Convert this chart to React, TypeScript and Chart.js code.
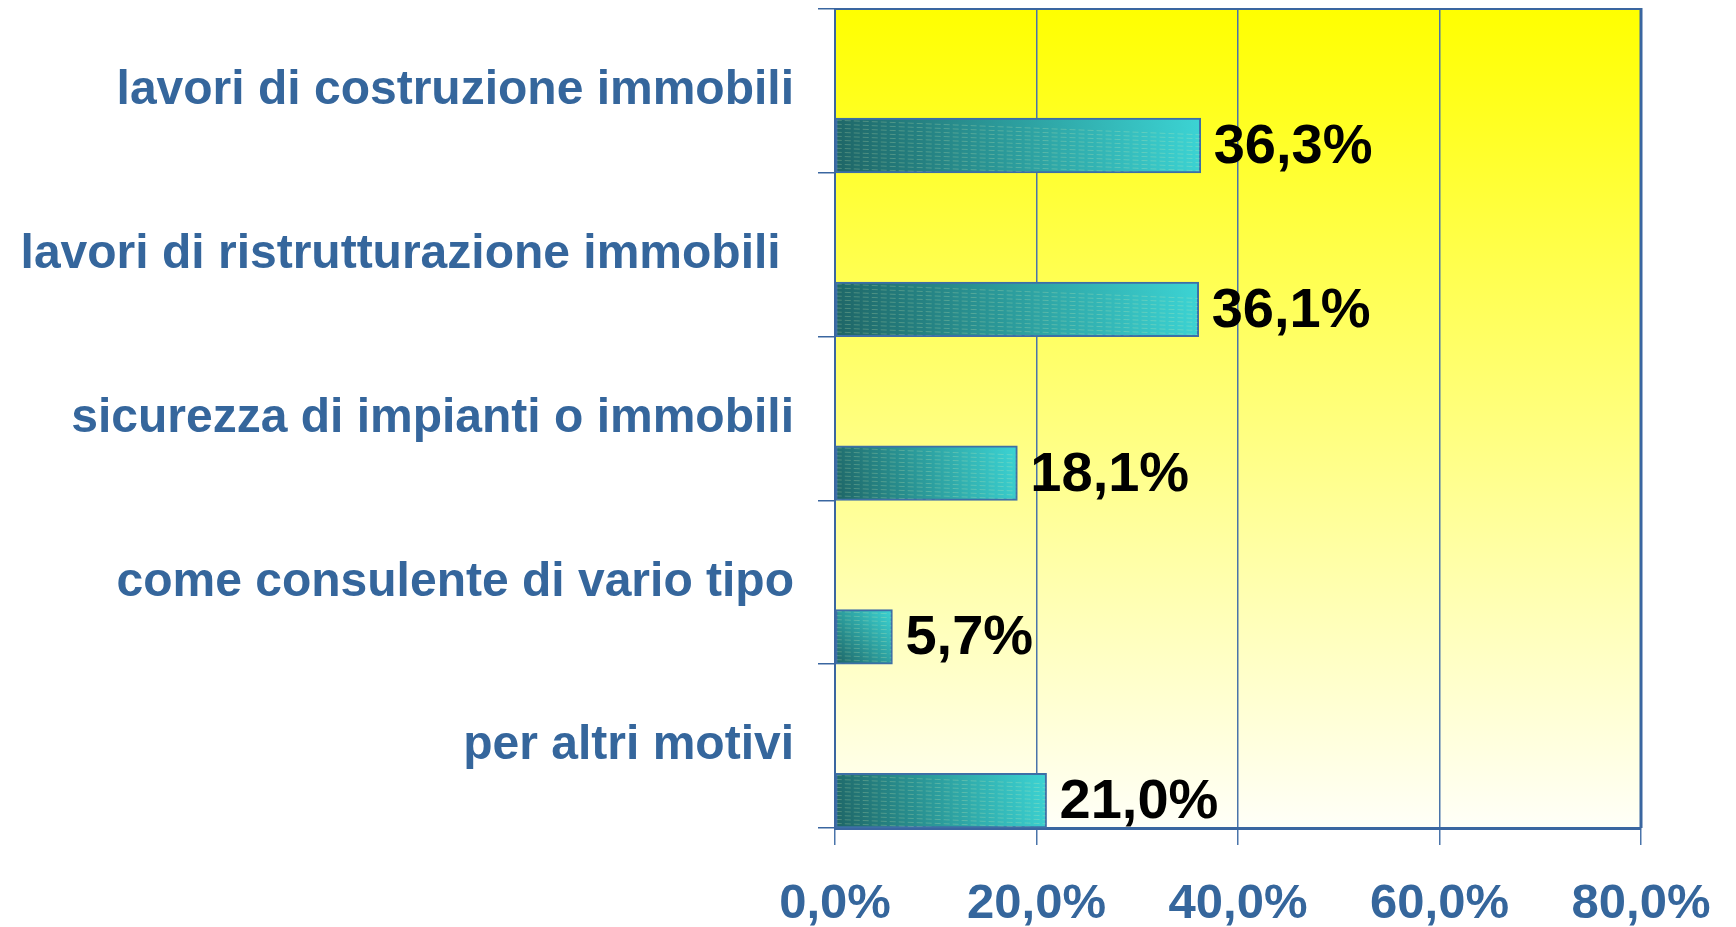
import React, { useEffect, useRef } from 'react';
import { Chart, registerables } from 'chart.js';

Chart.register(...registerables);

const categories = [
  'lavori di costruzione immobili',
  'lavori di ristrutturazione immobili ',
  'sicurezza di impianti o immobili',
  'come consulente di vario tipo',
  'per altri motivi',
];
const values = [36.3, 36.1, 18.1, 5.7, 21.0];
const xTicks = [0, 20, 40, 60, 80];
const spacerA = categories.map(() => null);
const spacerB = categories.map(() => null);

const FONT = '"Liberation Sans", Arial, sans-serif';
const BLUE_TEXT = '#35669c';
const GRID = '#4a74aa';
const AXIS = '#3a66a0';

const fmt = (v: number) => v.toFixed(1).replace('.', ',') + '%';

const bgPlugin = {
  id: 'plotBg',
  beforeDraw(chart: any) {
    const { ctx, chartArea: a } = chart;
    const g = ctx.createLinearGradient(0, a.top, 0, a.bottom);
    g.addColorStop(0, '#ffff00');
    g.addColorStop(1, '#fffff8');
    ctx.save();
    ctx.fillStyle = g;
    ctx.fillRect(a.left, a.top, a.right - a.left, a.bottom - a.top);
    ctx.restore();
  },
  afterDraw(chart: any) {
    const { ctx, chartArea: a } = chart;
    ctx.save();
    ctx.strokeStyle = AXIS;
    ctx.lineWidth = 2;
    ctx.beginPath();
    ctx.moveTo(a.left, a.top);
    ctx.lineTo(a.right, a.top);
    ctx.stroke();
    ctx.lineWidth = 3;
    ctx.beginPath();
    ctx.moveTo(a.right, a.top - 1);
    ctx.lineTo(a.right, a.bottom);
    ctx.stroke();
    ctx.restore();
  },
};

const texturePlugin = {
  id: 'barTexture',
  afterDatasetsDraw(chart: any) {
    const { ctx } = chart;
    const meta = chart.getDatasetMeta(2);
    ctx.save();
    meta.data.forEach((el: any) => {
      const x0 = Math.min(el.base, el.x);
      const x1 = Math.max(el.base, el.x);
      const y0 = el.y - el.height / 2;
      const h = el.height;
      ctx.save();
      ctx.beginPath();
      ctx.rect(x0 + 1, y0 + 1, x1 - x0 - 2, h - 2);
      ctx.clip();
      ctx.strokeStyle = 'rgba(215, 240, 180, 0.25)';
      ctx.lineWidth = 1;
      ctx.setLineDash([6, 3]);
      for (let y = y0 + 2; y < y0 + h; y += 4) {
        ctx.beginPath();
        ctx.moveTo(x0, y);
        ctx.lineTo(x1, y + (x1 - x0) * 0.04);
        ctx.stroke();
      }
      ctx.restore();
    });
    ctx.restore();
  },
};

const valueLabelPlugin = {
  id: 'valueLabels',
  afterDatasetsDraw(chart: any) {
    const { ctx } = chart;
    const meta = chart.getDatasetMeta(2);
    ctx.save();
    ctx.font = `bold 56px ${FONT}`;
    ctx.fillStyle = '#000000';
    ctx.textAlign = 'left';
    ctx.textBaseline = 'middle';
    meta.data.forEach((el: any, i: number) => {
      ctx.fillText(fmt(values[i]), el.x + 13, el.y + 2);
    });
    ctx.restore();
  },
};

const barFill = (c: any) => {
  const chart = c.chart;
  const xs = chart.scales?.x;
  const ys = chart.scales?.y;
  if (!xs || !ys || c.type !== 'data') return '#2aa0a0';
  const v = values[c.dataIndex];
  const x0 = xs.getPixelForValue(0);
  const x1 = xs.getPixelForValue(v);
  const center = ys.getPixelForValue(c.dataIndex);
  const band = (ys.bottom - ys.top) / categories.length;
  const bottom = center + band / 2;
  const top = center + band / 6;
  if (![x0, x1, bottom, top].every((n) => Number.isFinite(n)) || x1 - x0 < 1) return '#2aa0a0';
  const g = chart.ctx.createLinearGradient(x0, bottom, x1, top);
  g.addColorStop(0, '#1e6566');
  g.addColorStop(0.5, '#2c9e9e');
  g.addColorStop(1, '#3cd4d4');
  return g;
};

export default function App() {
  const ref = useRef<HTMLCanvasElement | null>(null);

  useEffect(() => {
    if (!ref.current) return;
    const chart = new Chart(ref.current, {
      type: 'bar',
      data: {
        labels: categories,
        datasets: [
          { label: 'a', data: spacerA as any, backgroundColor: 'transparent' },
          { label: 'b', data: spacerB as any, backgroundColor: 'transparent' },
          {
            label: 'valori',
            data: values,
            borderColor: '#3d6fa6',
            borderWidth: 2,
            borderSkipped: false,
            backgroundColor: barFill,
          },
        ],
      },
      options: {
        indexAxis: 'y',
        responsive: false,
        animation: false,
        events: [],
        layout: { padding: { left: 0, top: 9, right: 95, bottom: 0 } },
        datasets: { bar: { categoryPercentage: 1, barPercentage: 1 } },
        plugins: {
          legend: { display: false },
          tooltip: { enabled: false },
          title: { display: false },
        },
        scales: {
          x: {
            type: 'linear',
            position: 'bottom',
            min: 0,
            max: 80,
            afterBuildTicks: (s: any) => {
              s.ticks = xTicks.map((v) => ({ value: v }));
            },
            afterFit: (s: any) => {
              s.height = 99;
              s.paddingLeft = 0;
              s.paddingRight = 0;
            },
            ticks: {
              callback: (v: any) => fmt(Number(v)),
              color: BLUE_TEXT,
              font: { family: FONT, size: 49, weight: 'bold' },
              padding: 30,
              maxRotation: 0,
            },
            grid: {
              color: GRID,
              lineWidth: 1.5,
              tickLength: 17,
              drawOnChartArea: true,
              drawTicks: true,
            },
            border: { display: true, color: AXIS, width: 3 },
          },
          y: {
            type: 'category',
            offset: true,
            afterFit: (s: any) => {
              s.width = 835;
              s.paddingTop = 0;
              s.paddingBottom = 0;
            },
            ticks: {
              color: BLUE_TEXT,
              font: { family: FONT, size: 48, weight: 'bold' },
              padding: 24,
              autoSkip: false,
            },
            grid: {
              offset: true,
              drawOnChartArea: false,
              drawTicks: true,
              tickLength: 17,
              color: AXIS,
              lineWidth: 1.5,
            },
            border: { display: true, color: AXIS, width: 2 },
          },
        },
      },
      plugins: [bgPlugin, texturePlugin, valueLabelPlugin],
    });
    return () => chart.destroy();
  }, []);

  return (
    <div style={{ position: 'fixed', left: 0, top: 0, width: 1736, height: 927, background: '#ffffff' }}>
      <canvas ref={ref} width={1736} height={927} style={{ display: 'block' }} />
    </div>
  );
}
